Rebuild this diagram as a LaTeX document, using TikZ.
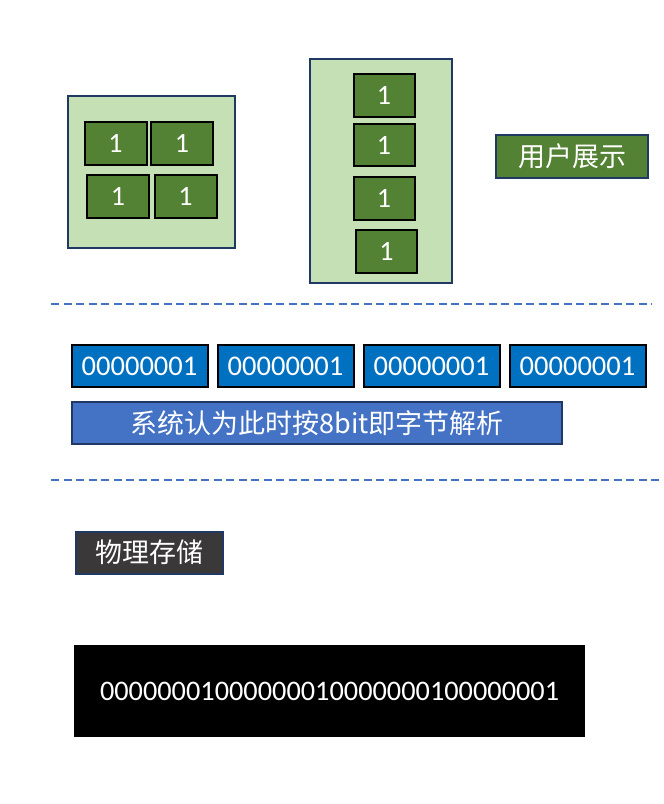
\documentclass[tikz,border=0pt]{standalone}
\usepackage{fontspec}
\setmainfont{Carlito}
\newfontfamily\cjk{Noto Sans CJK SC}
\definecolor{lgreen}{HTML}{C5E0B4}
\definecolor{dgreen}{HTML}{548235}
\definecolor{navy}{HTML}{1F3864}
\definecolor{bblue}{HTML}{0070C0}
\definecolor{mblue}{HTML}{4472C4}
\definecolor{dgray}{HTML}{3A3838}
\begin{document}
\begin{tikzpicture}[x=1pt,y=-1pt,
  outerbox/.style={draw=navy,line width=2pt,fill=lgreen,inner sep=0pt},
  gbox/.style={draw=black,line width=2pt,fill=dgreen,text=white,inner sep=0pt,font=\fontsize{28}{30}\selectfont},
  bitbox/.style={draw=black,line width=2pt,fill=bblue,text=white,inner sep=0pt,minimum width=136,minimum height=42,font=\fontsize{28.5}{30}\selectfont},
  labelbox/.style={draw=navy,line width=2pt,text=white,inner sep=0pt,font=\cjk\fontsize{27}{30}\selectfont},
  sep/.style={draw=mblue,line width=2.5pt,dash pattern=on 8pt off 4.5pt}]
\useasboundingbox (0,0) rectangle (664,804);
% left group
\node[outerbox,minimum width=167,minimum height=152] (L) at (151,171.5) {};
\node[gbox,minimum width=62,minimum height=43] (l1) at (115.5,143.5) {1};
\node[gbox,minimum width=62,minimum height=43] (l2) at (182,143.5) {1};
\node[gbox,minimum width=62,minimum height=43] (l3) at (118,196.5) {1};
\node[gbox,minimum width=62,minimum height=43] (l4) at (185.5,196.5) {1};
% middle group
\node[outerbox,minimum width=142,minimum height=224] (M) at (380.5,171) {};
\node[gbox,minimum width=61,minimum height=43] (m1) at (384,95.5) {1};
\node[gbox,minimum width=61,minimum height=42] (m2) at (384,145) {1};
\node[gbox,minimum width=61,minimum height=43] (m3) at (384,198.5) {1};
\node[gbox,minimum width=61,minimum height=43] (m4) at (386.5,251) {1};
% label
\node[labelbox,fill=dgreen,minimum width=152,minimum height=43] (show) at (572,156.5) {用户展示};
% separators
\coordinate (s1a) at (51,304); \coordinate (s1b) at (652,304);
\coordinate (s2a) at (51,480); \coordinate (s2b) at (664,480);
\draw[sep] (s1a) -- (s1b);
\draw[sep] (s2a) -- (s2b);
% bytes
\node[bitbox] (b1) at (139.5,366) {00000001};
\node[bitbox] (b2) at (285.5,366) {00000001};
\node[bitbox] (b3) at (431.5,366) {00000001};
\node[bitbox] (b4) at (577.5,366) {00000001};
\node[labelbox,fill=mblue,minimum width=490,minimum height=42] (parse) at (317,423) {系统认为此时按8bit即字节解析};
% physical
\node[labelbox,fill=dgray,minimum width=147,minimum height=42] (phys) at (149,552.5) {物理存储};
\node[fill=black,text=white,inner sep=0pt,minimum width=511,minimum height=92,font=\fontsize{28.3}{30}\selectfont] (raw) at (329.5,691) {00000001000000010000000100000001};
\end{tikzpicture}
\end{document}
